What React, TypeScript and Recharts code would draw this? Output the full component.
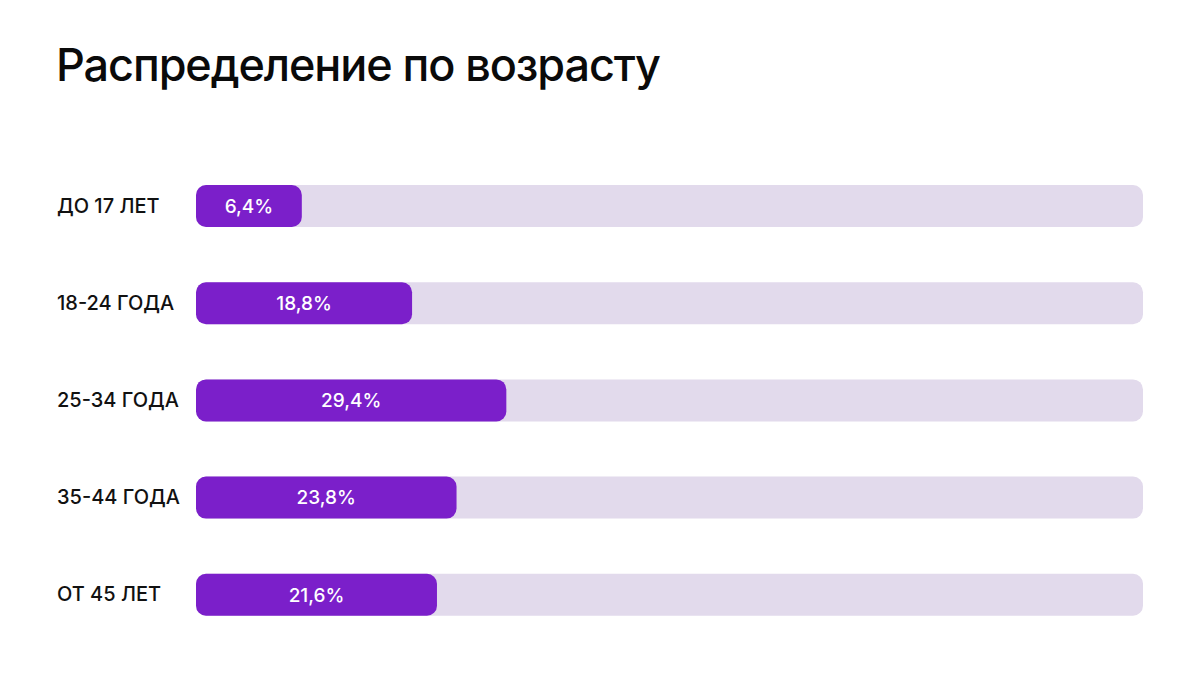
import { BarChart, Bar, XAxis, YAxis, LabelList } from "recharts";

const categories = ["ДО 17 ЛЕТ", "18-24 ГОДА", "25-34 ГОДА", "35-44 ГОДА", "ОТ 45 ЛЕТ"];
const shares = [6.4, 18.8, 29.4, 23.8, 21.6];

// bars start a bit left of zero so the small values still fit their labels
const AXIS_MIN = -5.5;
const AXIS_MAX = 101;

const data = categories.map((name, i) => ({ name, value: shares[i] }));

const PURPLE = "#7B1FCA";
const TRACK = "#E2DAEC";
const FONT = "Inter, 'Noto Sans', sans-serif";

const CategoryTick = ({ y, payload }: any) => (
  <text
    x={57}
    y={y}
    dy={7}
    textAnchor="start"
    fill="#111"
    fontSize={20}
    fontWeight={500}
    fontFamily={FONT}
  >
    {payload.value}
  </text>
);

export default function App() {
  return (
    <div
      style={{
        position: "relative",
        width: 1200,
        height: 675,
        margin: -8,
        background: "#fff",
        fontFamily: FONT,
      }}
    >
      <h1
        style={{
          position: "absolute",
          left: 56,
          top: 37,
          margin: 0,
          fontSize: 45,
          fontWeight: 500,
          color: "#0A0A0A",
          letterSpacing: "-1.1px",
        }}
      >
        Распределение по возрасту
      </h1>
      <div style={{ position: "absolute", left: 0, top: 0 }}>
        <BarChart
          width={1200}
          height={675}
          data={data}
          layout="vertical"
          margin={{ top: 157, right: 57, bottom: 32, left: 0 }}
          barSize={42}
        >
          <XAxis type="number" hide domain={[AXIS_MIN, AXIS_MAX]} allowDataOverflow />
          <YAxis
            type="category"
            dataKey="name"
            width={196}
            axisLine={false}
            tickLine={false}
            tick={<CategoryTick />}
          />
          <Bar
            dataKey={(d: any) => [AXIS_MIN, d.value]}
            fill={PURPLE}
            radius={10}
            background={{ fill: TRACK, radius: 10 } as any}
            isAnimationActive={false}
          >
            <LabelList
              dataKey="value"
              position="center"
              fill="#fff"
              fontSize={19}
              fontWeight={500}
              fontFamily={FONT}
              formatter={(v: any) => `${String(v).replace(".", ",")}%`}
            />
          </Bar>
        </BarChart>
      </div>
    </div>
  );
}
